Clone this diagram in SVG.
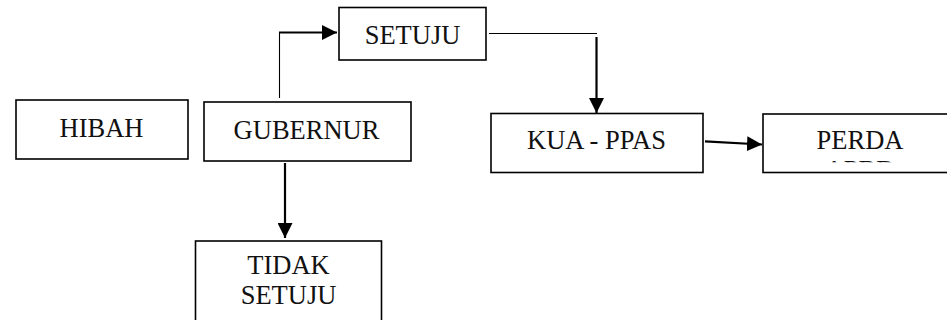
<svg xmlns="http://www.w3.org/2000/svg" width="947" height="320" viewBox="0 0 947 320">
  <style>
    .box { fill: #ffffff; stroke: #000000; stroke-width: 1.6; }
    .lbl { font-family: "Liberation Serif", "Times New Roman", serif; font-size: 26.5px; fill: #111111; text-anchor: middle; }
    .wire { fill: none; stroke: #000000; stroke-width: 2.2; }
    .thin { fill: none; stroke: #000000; stroke-width: 1.1; }
  </style>
  <defs>
    <marker id="arrow" markerUnits="userSpaceOnUse" markerWidth="16" markerHeight="15" refX="15" refY="7.5" orient="auto">
      <path d="M0,0 L15,7.5 L0,15 Z" fill="#000000"/>
    </marker>
    <clipPath id="perdaClip">
      <rect x="763" y="114" width="200" height="48.2"/>
    </clipPath>
  </defs>
  <rect width="947" height="320" fill="#ffffff"/>

  <g id="connectors">
    <!-- GUBERNUR up to SETUJU -->
    <path class="thin" d="M279.5,98 L279.5,32.5"/>
    <path class="wire" d="M279,32.5 L337,32.5" marker-end="url(#arrow)"/>
    <!-- SETUJU across and down to KUA - PPAS -->
    <path class="thin" d="M489,33.5 L597,33.5"/>
    <path class="wire" d="M596.5,37 L596.5,113" marker-end="url(#arrow)"/>
    <!-- KUA - PPAS to PERDA -->
    <path class="wire" d="M705,141.3 L762,144.5" marker-end="url(#arrow)"/>
    <!-- GUBERNUR down to TIDAK SETUJU -->
    <path class="wire" d="M285,163 L285,238" marker-end="url(#arrow)"/>
  </g>

  <g id="hibah">
    <rect class="box" x="16" y="100" width="172" height="59"/>
    <text class="lbl" x="101.5" y="137">HIBAH</text>
  </g>

  <g id="gubernur">
    <rect class="box" x="204" y="102" width="207" height="59"/>
    <text class="lbl" x="306.5" y="138.5">GUBERNUR</text>
  </g>

  <g id="setuju">
    <rect class="box" x="339" y="7.5" width="147" height="52.5"/>
    <text class="lbl" x="412.5" y="43.5">SETUJU</text>
  </g>

  <g id="kua-ppas">
    <rect class="box" x="491" y="113.5" width="212" height="59"/>
    <text class="lbl" x="596.5" y="149">KUA - PPAS</text>
  </g>

  <g id="perda">
    <rect class="box" x="763" y="114" width="194" height="58.5"/>
    <g clip-path="url(#perdaClip)">
      <text class="lbl" x="860" y="149">PERDA</text>
      <text class="lbl" x="860" y="179">APBD</text>
    </g>
  </g>

  <g id="tidak-setuju">
    <rect class="box" x="195.5" y="241" width="186" height="80"/>
    <text class="lbl" x="288.5" y="274">TIDAK</text>
    <text class="lbl" x="288.5" y="304">SETUJU</text>
  </g>
</svg>
